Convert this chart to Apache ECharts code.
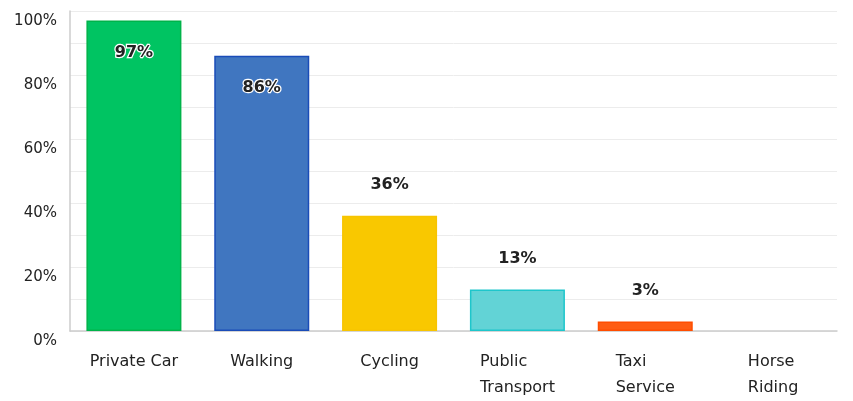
<!DOCTYPE html>
<html><head><meta charset="utf-8">
<script src="https://cdn.jsdelivr.net/npm/echarts@6/dist/echarts.min.js"></script>
<style>html,body{margin:0;padding:0;background:#fff}#c{width:853px;height:401px}</style>
</head><body><div id="c"></div>
<script>
var categories = ['Private Car', 'Walking', 'Cycling', 'Public\nTransport', 'Taxi\nService', 'Horse\nRiding'];
var values = [97, 86, 36, 13, 3, 0];
var fillColors = ['#00c462', '#4076c0', '#f9c800', '#62d3d6', '#ff5c12', '#999999'];
var borderColors = ['#00b34a', '#1a4cb8', '#f7c400', '#1ec6cb', '#ff4d00', '#999999'];
var yTicks = [0, 20, 40, 60, 80, 100];

var chart = echarts.init(document.getElementById('c'));
var data = values.map(function (v, i) {
  var inside = v > 50;
  return {
    value: v,
    itemStyle: { color: fillColors[i], borderColor: borderColors[i], borderWidth: v > 0 ? 1.5 : 0 },
    label: {
      show: v > 0,
      position: inside ? 'insideTop' : 'top',
      distance: inside ? 24 : 23,
      textBorderColor: inside ? '#fff' : 'transparent',
      textBorderWidth: inside ? 2.5 : 0
    }
  };
});
chart.setOption({
  animation: false,
  grid: { left: 70, right: 16, top: 11, bottom: 70, containLabel: false },
  xAxis: {
    type: 'category',
    data: categories,
    axisLine: { lineStyle: { color: '#cccccc', width: 1.5 } },
    axisTick: { show: false },
    axisLabel: {
      color: '#222',
      fontFamily: 'DejaVu Sans',
      fontSize: 16,
      margin: 18,
      interval: 0,
      formatter: function (v) {
        return v.split('\n').map(function (s) { return '{a|' + s + '}'; }).join('\n');
      },
      rich: { a: { align: 'left', fontFamily: 'DejaVu Sans', fontSize: 16, lineHeight: 26, color: '#222' } }
    }
  },
  yAxis: {
    type: 'value',
    min: 0, max: 100, interval: 10,
    axisLine: { show: true, lineStyle: { color: '#cccccc', width: 1.5 } },
    axisTick: { show: false },
    splitLine: { lineStyle: { color: '#ececec', width: 1 } },
    axisLabel: {
      color: '#222',
      fontFamily: 'DejaVu Sans',
      fontSize: 15,
      margin: 13,
      verticalAlign: 'top',
      padding: [3, 0, 0, 0],
      formatter: function (v) { return yTicks.indexOf(v) >= 0 ? v + '%' : ''; }
    }
  },
  series: [{
    type: 'bar',
    data: data,
    barWidth: 95,
    label: {
      show: true,
      formatter: '{c}%',
      fontFamily: 'DejaVu Sans',
      fontSize: 16,
      fontWeight: 'bold',
      color: '#222'
    }
  }]
});
</script></body></html>
